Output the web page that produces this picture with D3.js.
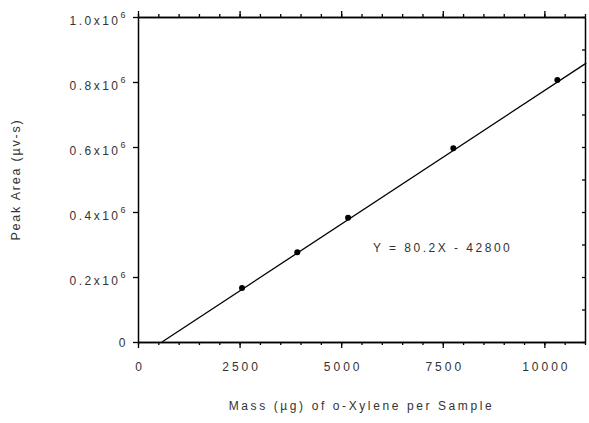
<!DOCTYPE html>
<html>
<head>
<meta charset="utf-8">
<script src="https://cdn.jsdelivr.net/npm/d3@7"></script>
<style>
  body { margin: 0; background: #fff; }
  text { font-family: Arial, "Liberation Sans", sans-serif; fill: #333; }
</style>
</head>
<body>
<div id="chart"></div>
<script>
// calibration points
const massX = [2560, 3920, 5170, 7760, 10320];
const peakY = [166000, 276000, 382000, 596000, 806000];

// fitted line, end points as drawn
const fitX = [590, 11030];
const fitY = [0, 858000];

const xTicks = [0, 2500, 5000, 7500, 10000];
const xMinor = [0, 500, 1000, 1500, 2000, 2500, 3000, 3500, 4000, 4500, 5000, 5500, 6000, 6500, 7000, 7500, 8000, 8500, 9000, 9500, 10000, 10500, 11000];
const yTicks = [0, 200000, 400000, 600000, 800000, 1000000];
const yTickLabels = ["0", "0.2x10", "0.4x10", "0.6x10", "0.8x10", "1.0x10"];
const yMinor = [0, 100000, 200000, 300000, 400000, 500000, 600000, 700000, 800000, 900000, 1000000];
const equation = "Y = 80.2X - 42800";

const W = 589, H = 423;
const margin = {top: 17, right: 4, bottom: 81, left: 138};
const width = W - margin.left - margin.right,
      height = H - margin.top - margin.bottom;

const svg = d3.select("#chart").append("svg")
    .attr("width", W)
    .attr("height", H);

const g = svg.append("g")
    .attr("transform", `translate(${margin.left},${margin.top})`);

const x = d3.scaleLinear().domain([0, 11000]).range([0, width]);
const y = d3.scaleLinear().domain([0, 1000000]).range([height, 0]);

// bottom axis: minor + major ticks
g.append("g")
    .attr("transform", `translate(0,${height})`)
    .call(d3.axisBottom(x).tickValues(xMinor).tickSize(3).tickSizeOuter(0).tickFormat(""));
const xAx = g.append("g")
    .attr("transform", `translate(0,${height})`)
    .call(d3.axisBottom(x).tickValues(xTicks).tickSize(6).tickSizeOuter(0).tickPadding(14).tickFormat(d3.format("d")));
xAx.selectAll("text")
    .style("font-size", "12px")
    .style("letter-spacing", "3px")
    .attr("dx", "1.5px");

// top axis
g.append("g")
    .call(d3.axisTop(x).tickValues(xMinor).tickSize(3).tickSizeOuter(0).tickFormat(""));
g.append("g")
    .call(d3.axisTop(x).tickValues(xTicks).tickSize(6).tickSizeOuter(0).tickFormat(""));

// left axis
const yAx = g.append("g")
    .call(d3.axisLeft(y).tickValues(yTicks).tickSize(5).tickSizeOuter(0).tickFormat(""));
yAx.selectAll(".tick").each(function(d, i) {
    const t = d3.select(this).append("text")
        .attr("x", -10)
        .attr("text-anchor", "end")
        .style("font-size", "12px")
        .style("letter-spacing", "2.5px");
    if (i === 0) {
        t.attr("dy", "0.35em").text(yTickLabels[i]);
    } else {
        t.attr("dy", "0.6em").text(yTickLabels[i]);
        t.append("tspan")
            .attr("dy", "-0.75em")
            .style("font-size", "9px")
            .text("6");
    }
});

// right axis, ticks inward
g.append("g")
    .attr("transform", `translate(${width},0)`)
    .call(d3.axisRight(y).tickValues(yMinor).tickSize(-3).tickSizeOuter(0).tickFormat(""));

g.selectAll(".domain").attr("stroke", "#000").attr("stroke-width", 1.5);
g.selectAll(".tick line").attr("stroke", "#000").attr("stroke-width", 1.3);

// fit line
g.append("line")
    .attr("x1", x(fitX[0])).attr("y1", y(fitY[0]))
    .attr("x2", x(fitX[1])).attr("y2", y(fitY[1]))
    .attr("stroke", "#000")
    .attr("stroke-width", 1.3);

// points
g.selectAll(".pt")
    .data(massX.map((m, i) => ({m, p: peakY[i]})))
    .enter().append("circle")
    .attr("class", "pt")
    .attr("cx", d => x(d.m))
    .attr("cy", d => y(d.p))
    .attr("r", 3)
    .attr("fill", "#000");

// equation
g.append("text")
    .attr("x", x(5780))
    .attr("y", y(290000) + 4)
    .style("font-size", "12px")
    .style("letter-spacing", "2.5px")
    .text(equation);

// axis titles
svg.append("text")
    .attr("x", margin.left + width / 2)
    .attr("y", 410)
    .attr("text-anchor", "middle")
    .style("font-size", "12px")
    .style("letter-spacing", "2.6px")
    .text("Mass (\u00b5g) of o-Xylene per Sample");

svg.append("text")
    .attr("transform", `translate(20,${margin.top + height / 2}) rotate(-90)`)
    .attr("text-anchor", "middle")
    .style("font-size", "12.5px")
    .style("letter-spacing", "1.8px")
    .text("Peak Area (\u00b5v-s)");
</script>
</body>
</html>
